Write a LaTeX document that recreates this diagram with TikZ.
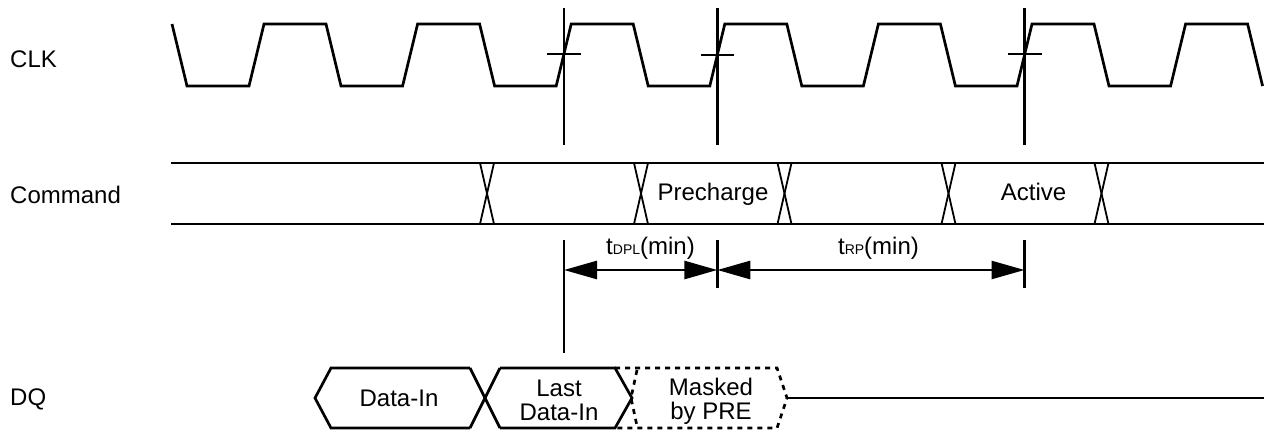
\documentclass[tikz,border=0pt]{standalone}
\usepackage{fontspec}
\setmainfont{Liberation Sans}
\usetikzlibrary{arrows.meta}
\tikzset{
  wave/.style={line width=2.7pt, line join=miter},
  bus/.style={line width=2.8pt},
  cross/.style={line width=1.8pt},
  marker/.style={line width=2.8pt},
  dashbox/.style={line width=2.7pt, dash pattern=on 5pt off 5pt},
  lbl/.style={inner sep=0pt, font=\fontsize{24}{24}\selectfont},
  dim/.style={line width=2.7pt, {Triangle[length=33pt,width=18pt]}-{Triangle[length=33pt,width=18pt]}},
}
\newcommand{\smallsub}[1]{{\fontsize{14}{14}\selectfont #1}}
\begin{document}
\begin{tikzpicture}[x=1pt,y=-1pt]
\useasboundingbox (0,0) rectangle (1264,431);
% labels
\node[lbl, anchor=base west] (lclk) at (10,67) {CLK};
\node[lbl, anchor=base west] (lcmd) at (10,203) {Command};
\node[lbl, anchor=base west] (ldq) at (10,405) {DQ};
% clock
\draw[wave] (172,24) -- (187,86) -- (249,86) -- (264,24) -- (326,24) -- (341,86)
  -- (402.6,86) -- (417.6,24) -- (479.6,24) -- (494.6,86)
  -- (556.2,86) -- (571.2,24) -- (633.2,24) -- (648.2,86)
  -- (709.8,86) -- (724.8,24) -- (786.8,24) -- (801.8,86)
  -- (863.4,86) -- (878.4,24) -- (940.4,24) -- (955.4,86)
  -- (1017,86) -- (1032,24) -- (1094,24) -- (1109,86)
  -- (1170.6,86) -- (1185.6,24) -- (1247.6,24) -- (1262.6,86);
% reference markers on clock
\draw[marker] (564,8) -- (564,145);
\draw[marker] (717.3,8) -- (717.3,145);
\draw[marker] (1024.5,8) -- (1024.5,145);
\draw[marker] (547,54) -- (581,54);
\draw[marker] (701,55) -- (734,55);
\draw[marker] (1008,54) -- (1042,54);
% command bus
\draw[bus] (171,163) -- (1264,163);
\draw[bus] (171,224) -- (1264,224);
\foreach \c in {487,641,784.5,948.5,1101.5}{
  \draw[cross] (\c-7,163) -- (\c+7,224);
  \draw[cross] (\c-7,224) -- (\c+7,163);
}
\node[lbl, anchor=base] (pre) at (713,200) {Precharge};
\node[lbl, anchor=base] (act) at (1033.5,200) {Active};
% timing markers
\draw[marker] (564,240) -- (564,353);
\draw[marker] (717.3,240) -- (717.3,288);
\draw[marker] (1024.5,240) -- (1024.5,288);
\coordinate (d1) at (564,270);
\coordinate (d2) at (717.3,270);
\coordinate (d3) at (1024.5,270);
\draw[dim] (d1) -- (d2);
\draw[dim] (d2) -- (d3);
\node[lbl, anchor=base] (tdpl) at (650.5,254) {t\smallsub{DPL}(min)};
\node[lbl, anchor=base] (trp) at (878.5,254) {t\smallsub{RP}(min)};
% DQ
\draw[wave] (470,368) -- (331,368) -- (315,398) -- (331,428) -- (470,428);
\draw[wave] (470,368) -- (500,428);
\draw[wave] (470,428) -- (500,368);
\draw[wave] (500,368) -- (615,368) -- (632,398) -- (615,428) -- (500,428);
\draw[dashbox] (615,368) -- (777,368) -- (787,398) -- (777,428) -- (615,428);
\draw[dashbox] (637,370) -- (631,398) -- (637,426);
\draw[wave] (788,398) -- (1264,398);
\node[lbl, anchor=base] (din) at (399,406.5) {Data-In};
\node[lbl, anchor=base] (last1) at (559,396) {Last};
\node[lbl, anchor=base] (last2) at (559,420) {Data-In};
\node[lbl, anchor=base] (mask1) at (711,395) {Masked};
\node[lbl, anchor=base] (mask2) at (711,419) {by PRE};
\end{tikzpicture}
\end{document}
